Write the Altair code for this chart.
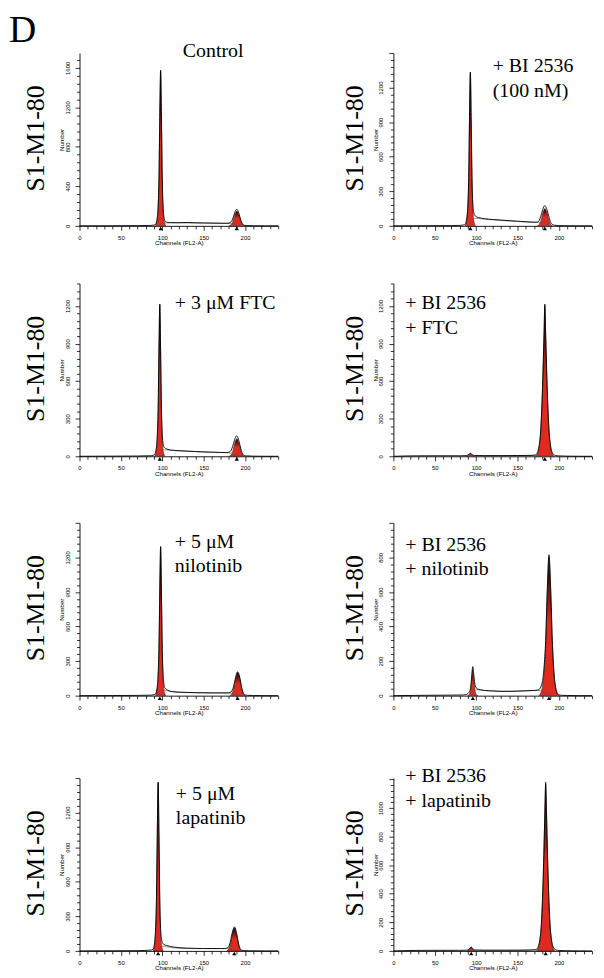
import altair as alt
import pandas as pd

# ---------------- data ----------------
# Panel 1: Control
P1_CH = [0, 40, 70, 85, 90, 92, 93, 94, 95, 96, 97, 98, 99, 100, 101, 102, 103, 104, 106, 110, 120, 130, 140, 150, 160, 170, 178, 181, 183, 185, 187, 189, 190, 191, 193, 195, 197, 199, 202, 210, 225, 240]
P1_N = [0, 1, 2, 4, 8, 15, 35, 85, 195, 480, 1110, 1575, 1085, 465, 190, 90, 55, 42, 36, 33, 32, 34, 31, 30, 28, 27, 26, 30, 40, 68, 120, 162, 168, 160, 115, 55, 18, 6, 3, 1, 0, 0]
P1_G1_CH = [92, 93, 94, 95, 96, 97, 98, 99, 100, 101, 102, 103, 104]
P1_G1_N = [0, 30, 80, 190, 470, 1100, 1570, 1070, 440, 160, 60, 25, 0]
P1_G2_CH = [181, 183, 185, 187, 189, 190, 191, 193, 195, 197, 199]
P1_G2_N = [0, 10, 40, 95, 140, 150, 142, 100, 45, 12, 0]
P1_S_CH = [95, 98, 102, 110, 120, 130, 140, 150, 160, 170, 180, 186, 190, 194]
P1_S_N = [0, 15, 28, 30, 30, 29, 28, 27, 26, 25, 24, 18, 8, 0]
P1_MARK = [98, 190]

# Panel 2: + BI 2536 (100 nM)
P2_CH = [0, 40, 70, 80, 85, 87, 88, 89, 90, 91, 92, 93, 94, 95, 96, 97, 98, 100, 103, 110, 120, 130, 140, 150, 160, 170, 174, 176, 178, 180, 182, 183, 184, 186, 188, 190, 192, 195, 200, 210, 225, 240]
P2_N = [0, 1, 2, 4, 8, 15, 40, 85, 185, 420, 950, 1335, 920, 420, 190, 120, 95, 80, 72, 62, 55, 50, 45, 40, 36, 32, 32, 45, 80, 130, 170, 175, 168, 130, 75, 30, 12, 5, 2, 1, 0, 0]
P2_G1_CH = [87, 88, 89, 90, 91, 92, 93, 94, 95, 96, 97, 98, 99]
P2_G1_N = [0, 25, 65, 160, 400, 930, 1330, 900, 380, 140, 55, 20, 0]
P2_G2_CH = [174, 176, 178, 180, 182, 183, 184, 186, 188, 190, 192]
P2_G2_N = [0, 10, 40, 95, 140, 150, 142, 100, 45, 12, 0]
P2_S_CH = [90, 94, 97, 100, 110, 120, 130, 140, 150, 160, 170, 178, 184, 188]
P2_S_N = [0, 30, 60, 65, 58, 52, 47, 42, 38, 33, 30, 26, 12, 0]
P2_MARK = [93, 183]

# Panel 3: + 3 uM FTC
P3_CH = [0, 40, 70, 85, 89, 91, 92, 93, 94, 95, 96, 97, 98, 99, 100, 101, 102, 104, 107, 110, 120, 130, 140, 150, 160, 170, 178, 181, 183, 185, 187, 189, 190, 191, 193, 195, 197, 199, 202, 210, 225, 240]
P3_N = [0, 1, 2, 4, 8, 15, 35, 75, 175, 390, 860, 1215, 840, 380, 175, 100, 75, 62, 55, 50, 45, 41, 38, 35, 33, 31, 30, 34, 46, 78, 122, 158, 163, 155, 112, 58, 20, 6, 3, 1, 0, 0]
P3_G1_CH = [91, 92, 93, 94, 95, 96, 97, 98, 99, 100, 101, 102, 103]
P3_G1_N = [0, 22, 60, 145, 360, 840, 1210, 820, 340, 125, 48, 18, 0]
P3_G2_CH = [181, 183, 185, 187, 189, 190, 191, 193, 195, 197, 199]
P3_G2_N = [0, 10, 37, 90, 130, 140, 132, 92, 42, 11, 0]
P3_S_CH = [94, 98, 101, 110, 120, 130, 140, 150, 160, 170, 180, 186, 190, 194]
P3_S_N = [0, 30, 52, 48, 43, 40, 37, 34, 32, 30, 28, 20, 8, 0]
P3_MARK = [97, 190]

# Panel 4: + BI 2536 + FTC
P4_CH = [0, 20, 40, 60, 80, 88, 90, 92, 93, 94, 96, 98, 110, 130, 150, 165, 170, 172, 174, 176, 178, 180, 182, 183, 184, 186, 188, 190, 192, 194, 196, 200, 210, 225, 240]
P4_N = [0, 3, 4, 4, 4, 5, 10, 20, 24, 20, 10, 6, 5, 5, 6, 7, 9, 12, 30, 80, 210, 510, 970, 1215, 975, 515, 215, 80, 28, 12, 6, 3, 1, 0, 0]
P4_G1_CH = [88, 90, 92, 93, 94, 96, 98]
P4_G1_N = [0, 5, 15, 20, 15, 5, 0]
P4_G2_CH = [172, 174, 176, 178, 180, 182, 183, 184, 186, 188, 190, 192, 194]
P4_G2_N = [0, 20, 70, 200, 500, 960, 1200, 960, 500, 200, 70, 20, 0]
P4_S_CH = [92, 100, 120, 140, 160, 175, 182]
P4_S_N = [0, 4, 5, 5, 6, 6, 0]
P4_MARK = [183]

# Panel 5: + 5 uM nilotinib
P5_CH = [0, 40, 70, 85, 90, 92, 93, 94, 95, 96, 97, 98, 99, 100, 101, 102, 103, 105, 108, 112, 120, 130, 140, 150, 160, 170, 178, 182, 184, 186, 188, 190, 191, 192, 194, 196, 198, 200, 203, 210, 225, 240]
P5_N = [0, 1, 2, 4, 8, 15, 40, 85, 190, 430, 920, 1295, 890, 400, 180, 100, 68, 55, 42, 35, 30, 28, 26, 25, 24, 24, 24, 28, 40, 76, 140, 195, 207, 198, 145, 68, 20, 6, 3, 1, 0, 0]
P5_G1_CH = [92, 93, 94, 95, 96, 97, 98, 99, 100, 101, 102, 103, 104]
P5_G1_N = [0, 25, 65, 155, 390, 900, 1290, 870, 360, 135, 50, 20, 0]
P5_G2_CH = [182, 184, 186, 188, 190, 191, 192, 194, 196, 198, 200]
P5_G2_N = [0, 15, 55, 125, 185, 200, 190, 135, 60, 15, 0]
P5_S_CH = [95, 99, 103, 110, 120, 130, 140, 150, 160, 170, 180, 186, 190, 195]
P5_S_N = [0, 30, 48, 38, 30, 27, 25, 24, 23, 23, 22, 16, 7, 0]
P5_MARK = [97, 191]

# Panel 6: + BI 2536 + nilotinib
P6_CH = [0, 40, 70, 85, 88, 90, 92, 93, 94, 95, 96, 97, 98, 99, 100, 102, 105, 110, 120, 130, 140, 150, 160, 170, 174, 176, 178, 180, 182, 184, 186, 188, 190, 192, 194, 196, 198, 200, 203, 210, 225, 240]
P6_N = [0, 2, 3, 4, 6, 12, 25, 40, 78, 135, 168, 128, 82, 55, 45, 38, 34, 30, 27, 25, 25, 26, 28, 30, 32, 35, 50, 80, 160, 320, 620, 815, 625, 320, 135, 48, 14, 4, 2, 1, 0, 0]
P6_G1_CH = [90, 92, 93, 94, 95, 96, 97, 98, 99, 100, 102]
P6_G1_N = [0, 10, 25, 55, 110, 150, 105, 50, 22, 8, 0]
P6_G2_CH = [176, 178, 180, 182, 184, 186, 188, 190, 192, 194, 196, 198, 200]
P6_G2_N = [0, 15, 50, 130, 300, 600, 800, 610, 310, 130, 45, 12, 0]
P6_S_CH = [93, 97, 100, 110, 120, 130, 140, 150, 160, 170, 176, 182, 186, 190]
P6_S_N = [0, 20, 35, 30, 27, 25, 25, 26, 28, 30, 30, 22, 10, 0]
P6_MARK = [96, 188]

# Panel 7: + 5 uM lapatinib
P7_CH = [0, 40, 70, 82, 87, 89, 90, 91, 92, 93, 94, 95, 96, 97, 98, 99, 100, 102, 105, 110, 120, 130, 140, 150, 160, 170, 175, 178, 180, 182, 184, 186, 187, 188, 190, 192, 194, 196, 199, 205, 225, 240]
P7_N = [0, 1, 2, 5, 8, 15, 40, 90, 210, 470, 1040, 1465, 1010, 440, 195, 110, 75, 55, 48, 38, 28, 24, 22, 21, 21, 21, 21, 24, 35, 72, 140, 195, 208, 200, 145, 68, 20, 6, 3, 1, 0, 0]
P7_G1_CH = [89, 90, 91, 92, 93, 94, 95, 96, 97, 98, 99, 100, 101]
P7_G1_N = [0, 25, 70, 175, 440, 1020, 1460, 990, 410, 150, 55, 22, 0]
P7_G2_CH = [178, 180, 182, 184, 186, 187, 188, 190, 192, 194, 196]
P7_G2_N = [0, 15, 55, 125, 185, 200, 190, 135, 60, 15, 0]
P7_S_CH = [92, 96, 100, 110, 120, 130, 140, 150, 160, 170, 178, 183, 187, 191]
P7_S_N = [0, 25, 40, 30, 24, 21, 20, 20, 20, 20, 20, 14, 6, 0]
P7_MARK = [95, 187]

# Panel 8: + BI 2536 + lapatinib
P8_CH = [0, 20, 40, 60, 80, 89, 91, 93, 94, 95, 97, 99, 110, 130, 150, 165, 170, 173, 175, 177, 179, 181, 183, 184, 185, 187, 189, 191, 193, 195, 197, 200, 210, 225, 240]
P8_N = [0, 3, 4, 4, 4, 5, 10, 22, 28, 22, 10, 6, 5, 5, 5, 6, 8, 12, 30, 80, 210, 510, 960, 1180, 965, 515, 215, 80, 28, 12, 6, 3, 1, 0, 0]
P8_G1_CH = [89, 91, 93, 94, 95, 97, 99]
P8_G1_N = [0, 6, 20, 25, 20, 6, 0]
P8_G2_CH = [173, 175, 177, 179, 181, 183, 184, 185, 187, 189, 191, 193, 195]
P8_G2_N = [0, 20, 70, 200, 500, 950, 1165, 950, 500, 200, 70, 20, 0]
P8_S_CH = [92, 100, 120, 140, 160, 175, 182]
P8_S_N = [0, 4, 4, 4, 5, 5, 0]
P8_MARK = [94, 184]

# y-axis ranges: top of axis, labelled step, last labelled value, minor tick step
Y_MAX = [1750, 1500, 1380, 1380, 1500, 1000, 1500, 1210]
Y_MAJOR = [400, 300, 300, 300, 300, 200, 300, 200]
Y_LABEL_MAX = [1600, 1200, 1200, 1200, 1200, 800, 1200, 1000]
Y_MINOR = [80, 60, 60, 60, 60, 40, 60, 40]
X_TICKS = list(range(0, 241, 10))

LABELS = [
    ["Control"],
    ["+ BI 2536", "(100 nM)"],
    ["+ 3 μM FTC"],
    ["+ BI 2536", "+ FTC"],
    ["+ 5 μM", "nilotinib"],
    ["+ BI 2536", "+ nilotinib"],
    ["+ 5 μM", "lapatinib"],
    ["+ BI 2536", "+ lapatinib"],
]
ROW_LABEL = "S1-M1-80"

# ---------------- layout / style ----------------
W, H = 200, 174
LABEL_POS = [(104, 4), (100, 19.3), (96, 26), (12, 26), (96, 25.3), (12, 28), (97, 22), (12, 4.3)]
LABEL_LH = 24.5
ROW_TOP = [41, 26, 35, 51]
ROW_BOTTOM = 30
COL_LEFT = [71, 104]
COL_RIGHT = [10, 3]
ROWLAB_X = [-44, -39]

RED = "#df2a1f"
GRAD = {
    "gradient": "linear", "x1": 0, "y1": 0, "x2": 0, "y2": 1,
    "stops": [
        {"offset": 0, "color": "#160404"},
        {"offset": 0.25, "color": "#7a1510"},
        {"offset": 0.48, "color": RED},
        {"offset": 1, "color": RED},
    ],
}
SANS = "Liberation Sans"
SERIF = "Liberation Serif"

DATA = [
    (P1_CH, P1_N, P1_G1_CH, P1_G1_N, P1_G2_CH, P1_G2_N, P1_S_CH, P1_S_N, P1_MARK),
    (P2_CH, P2_N, P2_G1_CH, P2_G1_N, P2_G2_CH, P2_G2_N, P2_S_CH, P2_S_N, P2_MARK),
    (P3_CH, P3_N, P3_G1_CH, P3_G1_N, P3_G2_CH, P3_G2_N, P3_S_CH, P3_S_N, P3_MARK),
    (P4_CH, P4_N, P4_G1_CH, P4_G1_N, P4_G2_CH, P4_G2_N, P4_S_CH, P4_S_N, P4_MARK),
    (P5_CH, P5_N, P5_G1_CH, P5_G1_N, P5_G2_CH, P5_G2_N, P5_S_CH, P5_S_N, P5_MARK),
    (P6_CH, P6_N, P6_G1_CH, P6_G1_N, P6_G2_CH, P6_G2_N, P6_S_CH, P6_S_N, P6_MARK),
    (P7_CH, P7_N, P7_G1_CH, P7_G1_N, P7_G2_CH, P7_G2_N, P7_S_CH, P7_S_N, P7_MARK),
    (P8_CH, P8_N, P8_G1_CH, P8_G1_N, P8_G2_CH, P8_G2_N, P8_S_CH, P8_S_N, P8_MARK),
]


def df(ch, n):
    return pd.DataFrame({"ch": ch, "n": n})


def panel(i):
    row, col = divmod(i, 2)
    ch, n, g1c, g1n, g2c, g2n, sc, sn, marks = DATA[i]
    ymax, major, minor, lmax = Y_MAX[i], Y_MAJOR[i], Y_MINOR[i], Y_LABEL_MAX[i]

    xaxis = alt.Axis(
        values=X_TICKS, labelExpr="datum.value % 50 === 0 ? format(datum.value, 'd') : ''",
        title="Channels (FL2-A)", titleX=100, titleY=17, titleAlign="center",
        titleBaseline="middle", titleFont=SANS, titleFontSize=6.2, titleFontWeight="normal",
        labelFont=SANS, labelFontSize=6, labelPadding=4, labelFlush=False, labelOverlap=False,
        tickSize={"condition": {"test": "datum.value % 50 === 0", "value": 4.5}, "value": 3},
        grid=False,
    )
    yaxis = alt.Axis(
        values=list(range(0, ymax + 1, minor)),
        labelExpr=f"datum.value % {major} === 0 && datum.value <= {lmax} ? format(datum.value, 'd') : ''",
        labelAngle=270, labelAlign="center", labelBaseline="bottom",
        labelFont=SANS, labelFontSize=6, labelPadding=5, labelFlush=False, labelOverlap=False,
        tickSize={"condition": {"test": f"datum.value % {major} === 0", "value": 4.5}, "value": 3},
        title="Number", titleX=-18, titleY=H / 2, titleAngle=270, titleAlign="center",
        titleBaseline="middle", titleFont=SANS, titleFontSize=6.3, titleFontWeight="normal",
        grid=False,
    )
    X = alt.X("ch:Q", scale=alt.Scale(domain=[0, 240], nice=False, zero=True), axis=xaxis)
    Y = alt.Y("n:Q", scale=alt.Scale(domain=[0, ymax], nice=False, zero=True), axis=yaxis)

    layers = []
    for c_, n_ in ((g1c, g1n), (g2c, g2n)):
        layers.append(
            alt.Chart(df(c_, n_)).mark_area(
                interpolate="monotone", color=GRAD, stroke="#1a1a1a", strokeWidth=0.5
            ).encode(x=X, y=Y)
        )
    layers.append(
        alt.Chart(df(sc, sn)).mark_line(interpolate="monotone", color="#555555", strokeWidth=0.6)
        .encode(x=X, y=Y)
    )
    layers.append(
        alt.Chart(df(ch, n)).mark_line(interpolate="monotone", color="black", strokeWidth=0.9)
        .encode(x=X, y=Y)
    )
    layers.append(
        alt.Chart(pd.DataFrame({"ch": marks})).mark_point(
            shape="triangle-up", filled=True, color="black", size=18, opacity=1
        ).encode(x=X, y=alt.value(H + 2.6))
    )
    one = pd.DataFrame({"k": [0]})
    layers.append(
        alt.Chart(one).mark_text(
            text=ROW_LABEL, font=SERIF, fontSize=26, angle=270, align="center",
            baseline="middle", color="black"
        ).encode(x=alt.value(ROWLAB_X[col]), y=alt.value(H / 2 - 1))
    )
    lx, ly = LABEL_POS[i]
    lab = LABELS[i]
    layers.append(
        alt.Chart(one).mark_text(
            text=lab if len(lab) > 1 else lab[0], font=SERIF, fontSize=20, align="left",
            baseline="alphabetic", lineHeight=LABEL_LH, color="black"
        ).encode(x=alt.value(lx), y=alt.value(ly))
    )
    if i == 0:
        layers.append(
            alt.Chart(one).mark_text(
                text="D", font=SERIF, fontSize=38, align="left", baseline="alphabetic", color="black"
            ).encode(x=alt.value(-COL_LEFT[0]), y=alt.value(-11))
        )
    # invisible layout anchors fixing the cell bounds
    layers.append(
        alt.Chart(one).mark_point(size=1, opacity=0, filled=True)
        .encode(x=alt.value(-COL_LEFT[col]), y=alt.value(-ROW_TOP[row]))
    )
    layers.append(
        alt.Chart(one).mark_point(size=1, opacity=0, filled=True)
        .encode(x=alt.value(W + COL_RIGHT[col]), y=alt.value(H + ROW_BOTTOM))
    )
    return alt.layer(*layers).properties(width=W, height=H)


rows = [alt.hconcat(panel(2 * r), panel(2 * r + 1), spacing=0) for r in range(4)]
chart = (
    alt.vconcat(*rows, spacing=0)
    .properties(padding={"top": 0, "left": 0, "right": 0, "bottom": 0}, background="white")
    .configure_view(stroke=None)
    .configure_axis(domainColor="black", domainWidth=0.9, tickColor="black", tickWidth=0.8,
                    labelColor="black", titleColor="black")
)

chart.save("out.html", embed_options={"renderer": "svg", "actions": False})
